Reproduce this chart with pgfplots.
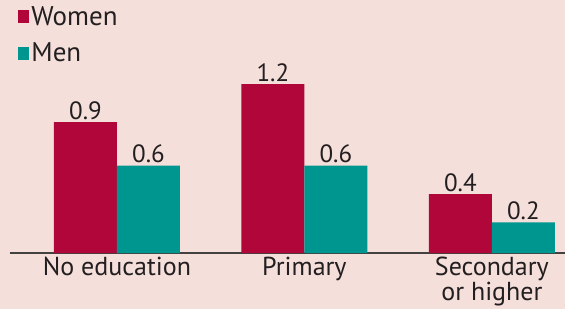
\documentclass[border=0pt]{standalone}
\usepackage{pgfplots}
\pgfplotsset{compat=1.18}
\usepackage{fontspec}
\setmainfont{PT Sans}
\definecolor{bg}{HTML}{F5DFDB}
\definecolor{women}{HTML}{B0063A}
\definecolor{men}{HTML}{009690}
\definecolor{txt}{HTML}{231F20}
\begin{document}
\begin{tikzpicture}[x=1pt,y=1pt]
\fill[bg] (0,0) rectangle (565,309);
\useasboundingbox (0,0) rectangle (565,309);
\begin{axis}[
  at={(9.7pt,56pt)}, anchor=south west,
  scale only axis, width=555.3pt, height=253pt,
  ybar=0pt, bar width=63pt,
  ymin=0, ymax=1.739, xmin=-0.572, xmax=2.39,
  axis y line=none, axis x line*=bottom,
  x axis line style={-, draw=txt!85, line width=1.2pt},
  xtick={0,1,2}, xticklabels={No education,Primary,{Secondary\\or higher}},
  major tick length=0pt,
  xticklabel style={align=center, text=txt, font=\fontsize{26}{22}\selectfont, inner ysep=2pt, yshift=-2pt},
  nodes near coords,
  every node near coord/.append style={text=txt, font=\fontsize{25}{28}\selectfont, inner sep=2.5pt, /pgf/number format/fixed, /pgf/number format/precision=1, /pgf/number format/fixed zerofill, /pgf/number format/assume math mode=true},
  legend style={at={(rel axis cs:0,1)}, anchor=north west, xshift=6pt, yshift=-2pt, draw=none, fill=none, font=\fontsize{27}{30}\selectfont, text=txt, row sep=12pt, inner xsep=2pt, inner ysep=2pt,
    nodes={inner xsep=2.5pt}},
  legend cell align=left,
  legend image code/.code={\fill[#1, draw=none] (0pt,-7pt) rectangle (11pt,6pt);},
  clip=false,
]
\addplot[fill=women, draw=none] coordinates {(0,0.9) (1,1.16) (2,0.405)};
\addplot[fill=men, draw=none] coordinates {(0,0.6) (1,0.6) (2,0.21)};
\legend{Women,Men}
\end{axis}
\end{tikzpicture}
\end{document}
